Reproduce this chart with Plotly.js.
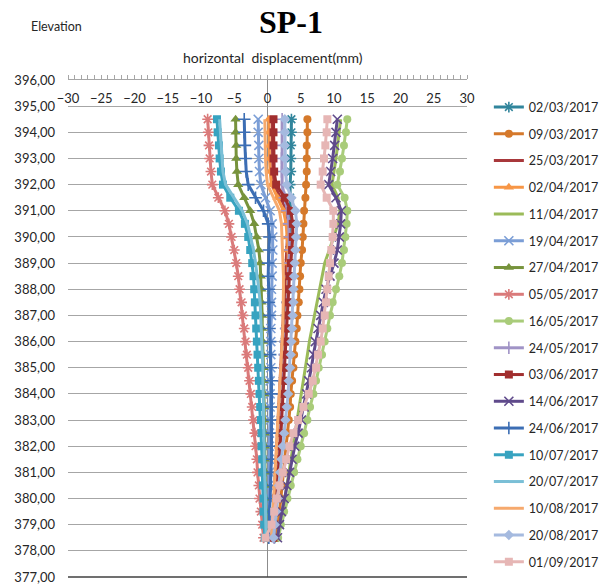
<!DOCTYPE html>
<html>
<head>
<meta charset="utf-8">
<script src="https://cdn.plot.ly/plotly-3.0.1.min.js"></script>
<style>
  html, body { margin: 0; padding: 0; background: #ffffff; }
  #chart { width: 600px; height: 586px; }
</style>
</head>
<body>
<div id="chart"></div>
<script>
// Inclinometer SP-1: horizontal displacement (mm) along the borehole, one profile per reading date.
const elevations = [394.5, 394, 393.5, 393, 392.5, 392, 391.5, 391, 390.5, 390, 389.5, 389, 388.5, 388, 387.5, 387, 386.5,
  386, 385.5, 385, 384.5, 384, 383.5, 383, 382.5, 382, 381.5, 381, 380.5, 380, 379.5, 379, 378.5];

const dates = ['02/03/2017', '09/03/2017', '25/03/2017', '02/04/2017', '11/04/2017', '19/04/2017', '27/04/2017', '05/05/2017',
  '16/05/2017', '24/05/2017', '03/06/2017', '14/06/2017', '24/06/2017', '10/07/2017', '20/07/2017', '10/08/2017',
  '20/08/2017', '01/09/2017'];

const d0203 = [3.6, 3.6, 3.5, 3.5, 3.5, 3.4, 3.4, 3.5, 3.5, 3.4, 3.3, 3.2, 3.1, 3.0, 2.9, 2.8, 2.7, 2.6, 2.5, 2.4, 2.3, 2.2, 2.1, 2.0, 1.9, 1.8, 1.7, 1.6, 1.5, 1.4, 1.3, 1.2, 1.1];
const d0903 = [6.0, 6.0, 5.9, 5.9, 5.9, 5.8, 5.7, 5.5, 5.4, 5.3, 5.2, 5.0, 4.9, 4.8, 4.7, 4.5, 4.4, 4.2, 4.0, 3.9, 3.7, 3.5, 3.4, 3.2, 3.0, 2.8, 2.6, 2.4, 2.2, 2.0, 1.8, 1.6, 1.4];
const d2503 = [0.7, 0.7, 0.7, 0.7, 0.8, 1.0, 2.0, 2.9, 3.1, 3.0, 2.9, 2.8, 2.7, 2.6, 2.5, 2.4, 2.3, 2.2, 2.1, 2.0, 1.9, 1.8, 1.7, 1.6, 1.5, 1.4, 1.3, 1.2, 1.1, 1.0, 0.9, 0.8, 0.7];
const d0204 = [0.2, 0.2, 0.3, 0.3, 0.4, 0.6, 1.5, 2.4, 2.8, 3.0, 3.1, 3.1, 3.1, 3.0, 3.0, 2.9, 2.8, 2.7, 2.6, 2.5, 2.4, 2.3, 2.1, 2.0, 1.9, 1.7, 1.6, 1.5, 1.3, 1.2, 1.0, 0.9, 0.8];
const d1104 = [11.0, 10.8, 10.6, 10.3, 10.0, 9.7, 10.6, 10.9, 10.6, 10.0, 9.3, 8.6, 8.2, 7.8, 7.4, 7.0, 6.6, 6.3, 6.0, 5.7, 5.4, 5.1, 4.8, 4.5, 4.2, 3.9, 3.6, 3.3, 3.0, 2.6, 2.2, 1.8, 1.5];
const d1904 = [-1.4, -1.4, -1.3, -1.3, -1.2, -1.0, -0.3, 0.4, 0.7, 0.8, 0.8, 0.7, 0.7, 0.6, 0.6, 0.6, 0.5, 0.5, 0.5, 0.5, 0.4, 0.4, 0.4, 0.4, 0.3, 0.3, 0.3, 0.3, 0.2, 0.2, 0.2, 0.1, 0.1];
const d2704 = [-4.8, -4.8, -4.7, -4.7, -4.6, -4.4, -3.5, -2.6, -2.0, -1.6, -1.3, -1.1, -1.0, -0.9, -0.9, -0.8, -0.8, -0.7, -0.7, -0.6, -0.6, -0.5, -0.5, -0.5, -0.4, -0.4, -0.4, -0.3, -0.3, -0.3, -0.2, -0.2, -0.1];
const d0505 = [-9.0, -8.9, -8.8, -8.7, -8.5, -8.3, -7.4, -6.4, -5.8, -5.4, -5.0, -4.7, -4.4, -4.2, -3.9, -3.7, -3.5, -3.3, -3.1, -2.9, -2.7, -2.5, -2.3, -2.1, -1.9, -1.8, -1.6, -1.5, -1.3, -1.2, -1.0, -0.8, -0.6];
const d1605 = [12.0, 11.8, 11.5, 11.2, 10.9, 10.5, 11.6, 12.0, 11.9, 11.7, 11.5, 11.2, 10.8, 10.3, 9.8, 9.4, 9.0, 8.6, 8.2, 7.7, 7.3, 6.9, 6.4, 6.0, 5.5, 5.0, 4.5, 4.0, 3.5, 3.0, 2.5, 2.0, 1.6];
const d2405 = [2.2, 2.2, 2.2, 2.1, 2.1, 2.2, 2.6, 3.0, 3.2, 3.3, 3.3, 3.2, 3.2, 3.1, 3.0, 2.9, 2.8, 2.7, 2.6, 2.5, 2.4, 2.3, 2.2, 2.1, 2.0, 1.9, 1.8, 1.6, 1.5, 1.4, 1.2, 1.1, 1.0];
const d0306 = [0.9, 0.9, 0.9, 0.9, 1.0, 1.3, 2.6, 3.5, 3.8, 3.8, 3.7, 3.5, 3.3, 3.2, 3.1, 3.0, 2.9, 2.8, 2.7, 2.6, 2.5, 2.4, 2.3, 2.2, 2.0, 1.9, 1.8, 1.6, 1.5, 1.3, 1.2, 1.0, 0.9];
const d1406 = [10.5, 10.3, 10.1, 9.8, 9.5, 9.2, 10.3, 11.1, 11.0, 10.8, 10.5, 10.0, 9.4, 8.8, 8.4, 8.0, 7.6, 7.2, 6.9, 6.6, 6.2, 5.9, 5.5, 5.1, 4.6, 4.1, 3.7, 3.3, 2.9, 2.5, 2.1, 1.8, 1.5];
const d2406 = [-3.5, -3.5, -3.4, -3.3, -3.2, -2.9, -1.8, -0.6, 0.1, 0.3, 0.2, 0.1, 0.1, 0.2, 0.2, 0.3, 0.3, 0.4, 0.4, 0.5, 0.6, 0.6, 0.6, 0.7, 0.7, 0.6, 0.6, 0.5, 0.5, 0.4, 0.3, 0.3, 0.2];
const d1007 = [-7.6, -7.5, -7.3, -7.2, -7.0, -6.7, -5.6, -4.3, -3.4, -2.9, -2.6, -2.3, -2.1, -2.0, -1.9, -1.8, -1.7, -1.6, -1.5, -1.4, -1.3, -1.2, -1.1, -1.0, -0.9, -0.9, -0.8, -0.8, -0.7, -0.6, -0.6, -0.5, -0.4];
const d2007 = [-7.2, -7.1, -7.0, -6.9, -6.7, -6.3, -5.0, -3.8, -3.0, -2.5, -2.1, -1.8, -1.5, -1.3, -1.1, -1.0, -0.9, -0.8, -0.8, -0.7, -0.7, -0.6, -0.6, -0.6, -0.5, -0.5, -0.5, -0.4, -0.4, -0.3, -0.3, -0.2, -0.2];
const d1008 = [-0.4, -0.4, -0.3, -0.3, -0.2, 0.0, 0.9, 1.8, 2.1, 2.2, 2.3, 2.3, 2.4, 2.4, 2.4, 2.3, 2.3, 2.2, 2.1, 2.0, 1.9, 1.8, 1.7, 1.6, 1.5, 1.4, 1.3, 1.2, 1.0, 0.9, 0.8, 0.7, 0.6];
const d2008 = [2.6, 2.6, 2.6, 2.6, 2.7, 2.9, 3.6, 4.2, 4.4, 4.3, 4.2, 4.1, 4.0, 3.9, 3.9, 3.8, 3.7, 3.6, 3.5, 3.4, 3.2, 3.1, 2.9, 2.7, 2.5, 2.3, 2.1, 1.9, 1.7, 1.5, 1.3, 1.1, 0.9];
const d0109 = [9.0, 8.9, 8.7, 8.5, 8.3, 8.0, 8.9, 9.9, 9.9, 9.8, 9.6, 9.4, 9.2, 9.0, 8.8, 8.6, 8.3, 8.0, 7.6, 7.3, 6.8, 6.2, 5.4, 4.6, 3.9, 3.3, 2.8, 2.3, 1.8, 1.4, 1.0, 0.6, -0.3];

const displacements = [d0203, d0903, d2503, d0204, d1104, d1904, d2704, d0505, d1605, d2405, d0306, d1406, d2406, d1007, d2007, d1008, d2008, d0109];

// Line colour and marker for each reading
const colors = ['#31859C', '#D5792B', '#A8383B', '#F79646', '#9BBB59', '#7B9ED6', '#77933C', '#DA7A7A', '#A9CC7A',
  '#A093C6', '#A12E2E', '#5F4A8B', '#3C6EB4', '#37A3C0', '#7ABFD6', '#F6A96D', '#A5BADF', '#E6B6B5'];
const symbols = ['asterisk-open', 'circle', null, 'triangle-up', null, 'x-thin-open', 'triangle-up', 'asterisk-open', 'circle',
  'cross-thin-open', 'square', 'x-thin-open', 'cross-thin-open', 'square', null, null, 'diamond', 'square'];

const FONT = 'Lato, "Open Sans", sans-serif';

const traces = dates.map((d, i) => {
  const sym = symbols[i];
  const thin = sym && /open/.test(sym);
  const t = {
    type: 'scatter',
    name: d,
    x: displacements[i],
    y: elevations,
    mode: sym ? 'lines+markers' : 'lines',
    line: { color: colors[i], width: 3 },
    legendgroup: 'g' + i,
    hoverinfo: 'x+y+name'
  };
  if (sym) {
    t.marker = {
      symbol: sym,
      color: colors[i],
      size: thin ? 9 : (sym === 'triangle-up' ? 9 : 8),
      line: { color: colors[i], width: thin ? 1.6 : 0 }
    };
  }
  // last series sits on the label axis (same range), which also brings those tick labels to life
  if (i === dates.length - 1) t.xaxis = 'x2';
  return t;
});

const layout = {
  width: 600,
  height: 586,
  margin: { l: 68, r: 133, t: 80, b: 9, autoexpand: false },
  paper_bgcolor: '#ffffff',
  plot_bgcolor: '#ffffff',
  separators: ',.',
  font: { family: FONT, size: 12, color: '#262626' },
  showlegend: true,
  legend: {
    x: 1.343, xanchor: 'right',
    y: 0.975, yanchor: 'top',
    font: { family: FONT, size: 12.5, color: '#262626' },
    itemwidth: 30,
    tracegroupgap: 7.5,
    borderwidth: 0,
    bgcolor: 'rgba(0,0,0,0)'
  },
  xaxis: {
    range: [-30, 30],
    side: 'top',
    showline: true, linecolor: '#A6A6A6', linewidth: 1,
    showgrid: false,
    zeroline: true, zerolinecolor: '#8C8C8C', zerolinewidth: 1.2,
    showticklabels: false,
    dtick: 5, ticks: 'outside', ticklen: 4, tickcolor: '#A6A6A6',
    minor: { dtick: 1, ticks: 'outside', ticklen: 4, tickcolor: '#A6A6A6', showgrid: false },
    fixedrange: true
  },
  xaxis2: {
    range: [-30, 30],
    overlaying: 'x',
    anchor: 'free', position: 1,
    side: 'bottom',
    showline: false, showgrid: false, zeroline: false,
    dtick: 5, ticks: '',
    ticklabelstandoff: 9,
    tickfont: { family: FONT, size: 13, color: '#262626' },
    fixedrange: true
  },
  yaxis: {
    range: [377, 396],
    dtick: 1,
    tickformat: '.2f',
    showgrid: true, gridcolor: '#A6A6A6', gridwidth: 1,
    showline: false, zeroline: false,
    ticks: '',
    ticklabelstandoff: 12,
    tickfont: { family: FONT, size: 13, color: '#262626' },
    fixedrange: true
  },
  shapes: [
    { type: 'line', xref: 'paper', yref: 'paper', x0: 0, x1: 1, y0: 0, y1: 0, line: { color: '#404040', width: 1.5 } }
  ],
  annotations: [
    { text: '<b>SP-1</b>', xref: 'paper', yref: 'paper', x: 0.559, y: 1.117, xanchor: 'center', yanchor: 'middle',
      showarrow: false, font: { family: '"Liberation Serif", "Times New Roman", serif', size: 32, color: '#000000' } },
    { text: 'Elevation', xref: 'paper', yref: 'paper', x: -0.028, y: 1.107, xanchor: 'center', yanchor: 'middle',
      showarrow: false, font: { family: FONT, size: 12.5, color: '#262626' } },
    { text: 'horizontal&nbsp;&nbsp;displacement(mm)', xref: 'paper', yref: 'paper', x: 0.515, y: 1.045, xanchor: 'center', yanchor: 'middle',
      showarrow: false, font: { family: FONT, size: 14, color: '#262626' } }
  ]
};

Plotly.newPlot('chart', traces, layout, { displayModeBar: false, staticPlot: true });
</script>
</body>
</html>
